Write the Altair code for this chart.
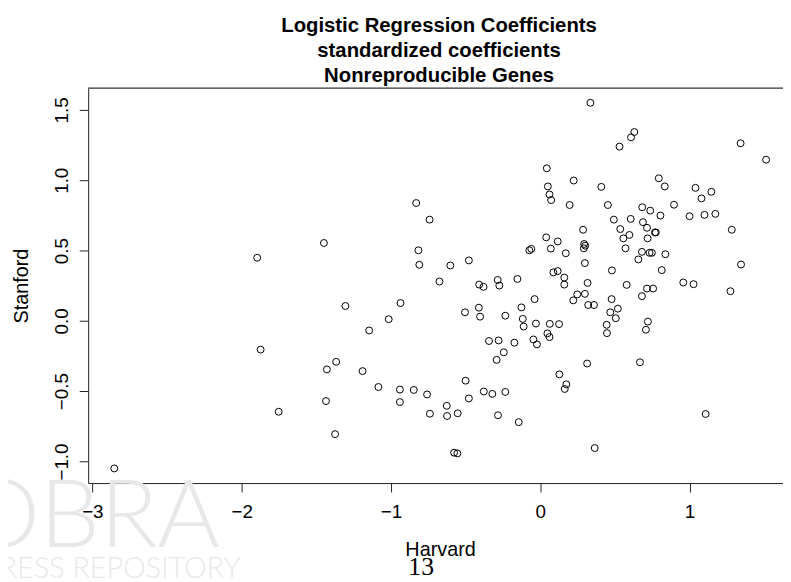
import altair as alt
import pandas as pd

# Harvard (x) and Stanford (y) standardized logistic regression coefficients
harvard = [
    -1.896, -1.873, -1.752, -2.853, -1.449, -0.831, -0.741, -0.816, -0.810, -0.602,
    -0.478, -0.675, -0.409, -0.380, -0.285, -0.274, -0.153, -0.073, -0.060, -1.305,
    -0.936, -1.015, -1.146, -1.429, -1.367, -1.190, -1.435, -1.374, -1.084, -0.940,
    -0.940, -0.847, -0.758, -0.739, -0.626, -0.624, -0.553, -0.577, -0.555, -0.500,
    -0.478, -0.378, -0.321, -0.234, -0.283, -0.144, -0.504, -0.411, -0.403, -0.234,
    -0.126, -0.117, -0.111, -0.343, -0.279, -0.173, -0.244, -0.292, -0.038, -0.029,
    0.064, 0.126, 0.048, 0.062, -0.046, -0.022, 0.248, 0.221, 0.299, 0.321,
    0.360, 0.478, 0.469, 0.520, 0.506, 0.445, 0.447, 0.681, 0.721, 0.708,
    0.314, 0.668, 0.128, 0.175, 0.164, 1.108, 0.365, 0.336, 0.630, 0.608,
    0.531, 1.342, 1.513, 0.044, 0.051, 0.062, 0.073, 0.224, 0.409, 0.794,
    0.834, 1.040, 1.146, 1.080, 0.197, 0.453, 0.683, 0.737, 0.805, 0.896,
    1.000, 1.100, 1.173, 0.493, 0.606, 0.688, 0.715, 0.536, 0.597, 0.557,
    0.719, 0.768, 0.774, 0.287, 0.040, 0.117, 0.071, 0.171, 0.294, 0.301,
    0.292, 0.299, 0.571, 0.681, 0.732, 0.748, 0.838, 0.657, 1.283, 1.345,
    0.480, 0.814, 0.088, 0.117, 0.161, 0.161, 0.317, 0.579, 0.715, 0.756,
    0.958, 1.027, 1.274,
]
stanford = [
    0.449, -0.204, -0.646, -1.049, 0.554, 0.838, 0.720, 0.502, 0.399, 0.394,
    0.430, 0.280, 0.258, 0.242, 0.291, 0.251, 0.298, 0.502, 0.512, 0.106,
    0.127, 0.012, -0.068, -0.345, -0.291, -0.357, -0.570, -0.805, -0.470, -0.488,
    -0.577, -0.491, -0.523, -0.660, -0.604, -0.676, -0.657, -0.937, -0.942, -0.425,
    -0.551, -0.502, -0.519, -0.505, -0.671, -0.720, 0.061, 0.094, 0.030, 0.037,
    0.096, 0.014, -0.040, -0.143, -0.139, -0.155, -0.223, -0.277, 0.155, -0.019,
    -0.021, -0.023, -0.089, -0.115, -0.132, -0.167, 0.188, 0.146, 0.192, 0.113,
    0.113, 0.155, 0.061, 0.087, 0.019, -0.028, -0.087, 0.176, -0.005, -0.063,
    -0.303, -0.294, -0.380, -0.451, -0.484, -0.662, -0.904, 1.551, 1.343, 1.305,
    1.239, 1.263, 1.146, 1.085, 0.956, 0.899, 0.859, 0.998, 0.953, 1.014,
    0.956, 0.946, 0.918, 0.871, 0.824, 0.824, 0.808, 0.784, 0.749, 0.826,
    0.744, 0.754, 0.761, 0.720, 0.725, 0.702, 0.662, 0.653, 0.611, 0.587,
    0.587, 0.629, 0.629, 0.648, 0.594, 0.565, 0.514, 0.481, 0.547, 0.535,
    0.516, 0.411, 0.516, 0.491, 0.484, 0.484, 0.474, 0.437, 0.648, 0.401,
    0.359, 0.361, 0.345, 0.354, 0.308, 0.258, 0.270, 0.256, 0.230, 0.230,
    0.273, 0.261, 0.211,
]

x_ticks = [-3, -2, -1, 0, 1]
y_ticks = [-1.0, -0.5, 0.0, 0.5, 1.0, 1.5]
title_lines = ["Logistic Regression Coefficients",
               "standardized coefficients",
               "Nonreproducible Genes"]

df = pd.DataFrame({"Harvard": harvard, "Stanford": stanford})

W, H = 702, 399
SANS = "Liberation Sans"

points = alt.Chart(df).mark_point(
    shape="circle", filled=False, size=49, strokeWidth=1, color="black", opacity=1
).encode(
    x=alt.X("Harvard:Q",
            scale=alt.Scale(domain=[-3.028, 1.626], nice=False, zero=False),
            axis=alt.Axis(values=x_ticks, format="d", grid=False,
                          tickSize=9, labelFontSize=19, labelPadding=11,
                          labelFont=SANS, labelColor="black",
                          domainColor="#222", tickColor="#222",
                          title="Harvard", titleFont=SANS, titleFontSize=20,
                          titleFontWeight="normal", titleColor="black",
                          titleX=355.5, titleY=73.6, titleBaseline="alphabetic",
                          titleAlign="center", titleAnchor="start",
                          labelOverlap=False)),
    y=alt.Y("Stanford:Q",
            scale=alt.Scale(domain=[-1.153, 1.655], nice=False, zero=False),
            axis=alt.Axis(values=y_ticks, format=".1f", grid=False,
                          tickSize=9, labelFontSize=19, labelPadding=12,
                          labelFont=SANS, labelColor="black",
                          labelAngle=270, labelAlign="center",
                          labelBaseline="alphabetic",
                          domainColor="#222", tickColor="#222",
                          title="Stanford", titleFont=SANS, titleFontSize=20,
                          titleFontWeight="normal", titleColor="black",
                          titleAngle=270, titleX=-61, titleY=199.5,
                          titleBaseline="alphabetic", titleAlign="center",
                          titleAnchor="start", labelOverlap=False)),
)

one = pd.DataFrame({"k": [0]})

top_rule = alt.Chart(one).mark_rule(color="#333", strokeWidth=1.2).encode(
    x=alt.value(0), x2=alt.value(W + 10), y=alt.value(0)
)

layers = []
# watermark (faint)
layers.append(alt.Chart(pd.DataFrame({"t": ["COBRA"]})).mark_text(
    font="Lato", fontWeight=300, fontSize=96, color="#e8e8e8",
    align="right", baseline="alphabetic"
).encode(text="t:N", x=alt.value(133), y=alt.value(464)))
layers.append(alt.Chart(pd.DataFrame({"t": ["BEPRESS REPOSITORY"]})).mark_text(
    font="Lato", fontWeight=300, fontSize=29, color="#e8e8e8",
    align="right", baseline="alphabetic"
).encode(text="t:N", x=alt.value(154), y=alt.value(495)))

layers.append(points)
layers.append(top_rule)

title_y = [-56.5, -31.5, -6.7]
for line, ty in zip(title_lines, title_y):
    layers.append(alt.Chart(pd.DataFrame({"t": [line]})).mark_text(
        font=SANS, fontWeight="bold", fontSize=20.5, color="black",
        align="center", baseline="alphabetic"
    ).encode(text="t:N", x=alt.value(354.5), y=alt.value(ty)))

layers.append(alt.Chart(pd.DataFrame({"t": ["13"]})).mark_text(
    font="Liberation Serif", fontSize=26, color="black",
    align="center", baseline="alphabetic"
).encode(text="t:N", x=alt.value(336.5), y=alt.value(492.3)))

chart = alt.layer(*layers).properties(
    width=W, height=H,
    autosize=alt.AutoSizeParams(type="none"),
    padding={"left": 81, "top": 78, "right": 0, "bottom": 97},
    background="white",
).configure_view(stroke=None)

chart.save("out.html", embed_options={"renderer": "svg", "actions": False})
